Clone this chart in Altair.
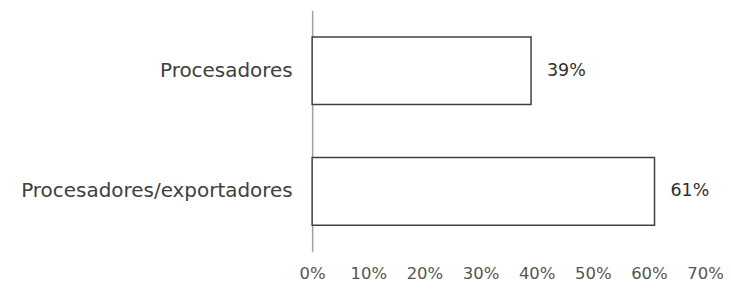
import altair as alt
import pandas as pd

categories = ["Procesadores", "Procesadores/exportadores"]
values = [0.39, 0.61]
labels = ["39%", "61%"]

df = pd.DataFrame({"cat": categories, "val": values, "lab": labels})

FONT = "DejaVu Sans"

base = alt.Chart(df).encode(
    y=alt.Y("cat:N", sort=categories, title=None,
            scale=alt.Scale(paddingInner=0.44, paddingOuter=0.22),
            axis=alt.Axis(domainColor="#a0a0a0", domainWidth=1.5, ticks=False,
                          labelFont=FONT, labelFontSize=20, labelColor="#404040",
                          labelPadding=20, labelLimit=400)),
)

bars = base.mark_bar(fill="white", stroke="#404040", strokeWidth=1.5).encode(
    x=alt.X("val:Q", title=None,
            scale=alt.Scale(domain=[0, 0.7], nice=False),
            axis=alt.Axis(format=".0%", values=[0, 0.1, 0.2, 0.3, 0.4, 0.5, 0.6, 0.7],
                          domain=False, ticks=False, grid=False, labelFlush=False,
                          labelFont=FONT, labelFontSize=16.5, labelColor="#555555",
                          labelPadding=14))
)

text = base.mark_text(align="left", dx=16, font=FONT, fontSize=17.5, color="#303030").encode(
    x="val:Q", text="lab:N"
)

chart = (bars + text).properties(
    width=394, height=242,
    background="white",
    autosize=alt.AutoSizeParams(type="none"),
    padding={"left": 305, "top": 2, "right": 18, "bottom": 33},
).configure_view(stroke="transparent", strokeWidth=0)

chart.save("out.html", embed_options={"renderer": "svg", "actions": False})
